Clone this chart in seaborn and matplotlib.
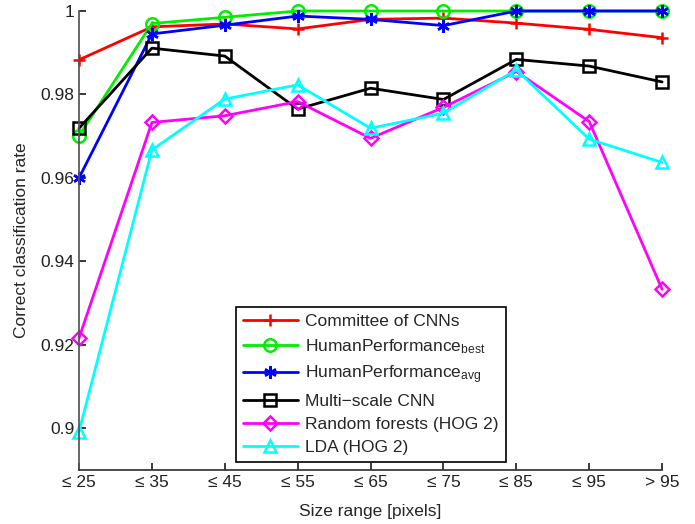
import matplotlib
matplotlib.use("Agg")
import matplotlib.pyplot as plt
import seaborn as sns
import pandas as pd

size_labels = ['≤ 25', '≤ 35', '≤ 45', '≤ 55', '≤ 65', '≤ 75', '≤ 85', '≤ 95', '> 95']

committee = [0.9883, 0.9962, 0.9969, 0.9957, 0.9980, 0.9983, 0.9971, 0.9956, 0.9936]
human_best = [0.9701, 0.9970, 0.9985, 1.0, 1.0, 1.0, 1.0, 1.0, 1.0]
human_avg = [0.9600, 0.9945, 0.9966, 0.9988, 0.9980, 0.9965, 1.0, 1.0, 1.0]
multiscale = [0.9719, 0.9911, 0.9892, 0.9765, 0.9815, 0.9788, 0.9884, 0.9868, 0.9830]
random_forest = [0.9216, 0.9733, 0.9749, 0.9783, 0.9695, 0.9769, 0.9855, 0.9735, 0.9333]
lda = [0.8992, 0.9667, 0.9789, 0.9823, 0.9719, 0.9755, 0.9859, 0.9693, 0.9637]

series = [
    ('Committee of CNNs', committee, 'red', '+'),
    (r'HumanPerformance$_{\mathrm{best}}$', human_best, '#00ee00', 'o'),
    (r'HumanPerformance$_{\mathrm{avg}}$', human_avg, 'blue', (6, 2, 0)),
    ('Multi\u2212scale CNN', multiscale, 'black', 's'),
    ('Random forests (HOG 2)', random_forest, 'magenta', 'D'),
    ('LDA (HOG 2)', lda, 'cyan', '^'),
]

sns.set_theme(style='ticks')
plt.rcParams['font.family'] = ['Liberation Sans', 'DejaVu Sans']
plt.rcParams['mathtext.fontset'] = 'custom'
plt.rcParams['mathtext.rm'] = 'Liberation Sans'
plt.rcParams['mathtext.it'] = 'Liberation Sans:italic'

fig = plt.figure(figsize=(6.95, 5.24), dpi=100)
ax = fig.add_axes([0.1137, 0.103, 0.839, 0.876])

x = list(range(len(size_labels)))
for name, vals, color, marker in series:
    df = pd.DataFrame({'x': x, 'y': vals})
    kw = dict(markersize=9, markeredgewidth=1.8)
    if marker in ('o', 's', 'D', '^'):
        kw['markerfacecolor'] = 'none'
    if marker == 'D':
        kw['markersize'] = 7.5
    sns.lineplot(data=df, x='x', y='y', ax=ax, color=color, marker=marker,
                 markeredgecolor=color, linewidth=2, label=name,
                 clip_on=False, **kw)

ax.set_xlim(0, len(size_labels) - 1)
ax.set_ylim(0.89, 1.0)
ax.set_xticks(x)
ax.set_xticklabels(size_labels)
yt = [0.9, 0.92, 0.94, 0.96, 0.98, 1.0]
ax.set_yticks(yt)
ax.set_yticklabels([f'{v:g}' for v in yt])
ax.tick_params(direction='in', length=5, labelsize=12.5, colors='#222222')
ax.set_xlabel('Size range [pixels]', fontsize=12.5, labelpad=10)
ax.set_ylabel('Correct classification rate', fontsize=12.5, labelpad=8)
sns.despine(ax=ax)
ax.spines['left'].set_color('#555555')
ax.spines['bottom'].set_color('#333333')

leg = ax.legend(loc='lower center', bbox_to_anchor=(0.5, 0.0174), fontsize=12.5,
                frameon=True, fancybox=False, framealpha=1, edgecolor='black',
                handlelength=3.2, handletextpad=0.4, labelspacing=0.45,
                borderpad=0.4, borderaxespad=0)
leg.get_frame().set_linewidth(1.2)
leg.set_zorder(5)

fig.savefig('out.png', dpi=100)
